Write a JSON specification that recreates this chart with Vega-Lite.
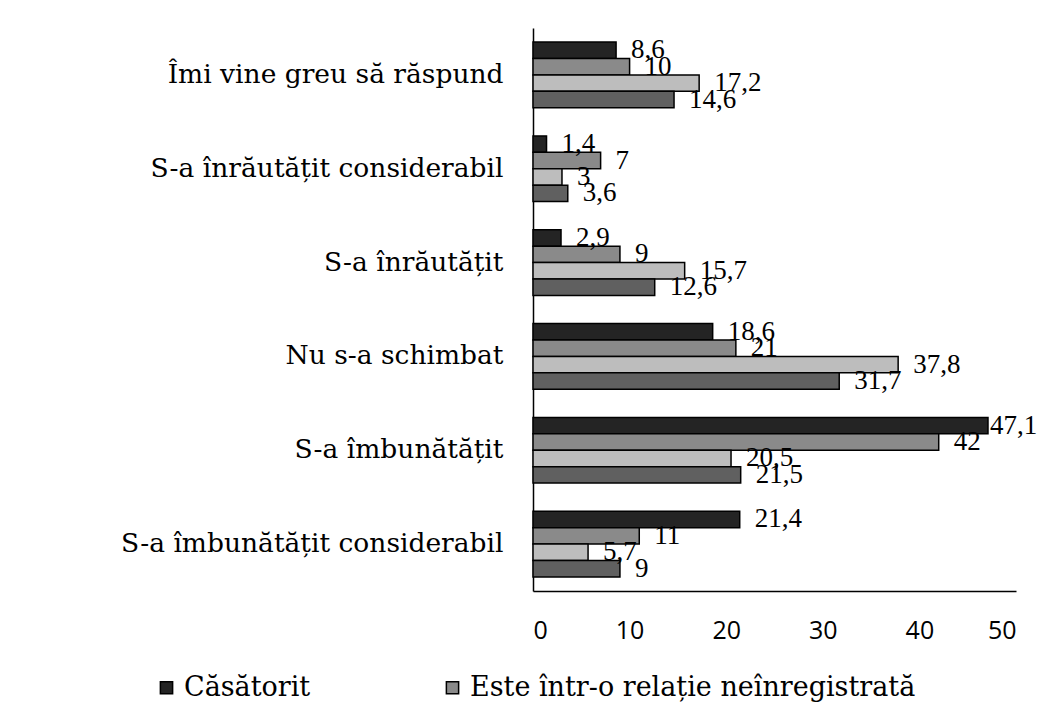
{
  "$schema": "https://vega.github.io/schema/vega-lite/v6.json",
  "width": 483,
  "height": 563,
  "autosize": {"type": "none"},
  "padding": {"left": 533, "top": 28, "right": 28, "bottom": 125},
  "background": "white",
  "config": {"view": {"stroke": null}},
  "data": {
    "values": [
      {"cat": "Îmi vine greu să răspund", "series": "Căsătorit", "value": 8.6, "label": "8,6"},
      {"cat": "Îmi vine greu să răspund", "series": "Este într-o relație neînregistrată", "value": 10, "label": "10"},
      {"cat": "Îmi vine greu să răspund", "series": "Divorțat", "value": 17.2, "label": "17,2"},
      {"cat": "Îmi vine greu să răspund", "series": "Văduv", "value": 14.6, "label": "14,6"},
      {"cat": "S-a înrăutățit considerabil", "series": "Căsătorit", "value": 1.4, "label": "1,4"},
      {"cat": "S-a înrăutățit considerabil", "series": "Este într-o relație neînregistrată", "value": 7, "label": "7"},
      {"cat": "S-a înrăutățit considerabil", "series": "Divorțat", "value": 3, "label": "3"},
      {"cat": "S-a înrăutățit considerabil", "series": "Văduv", "value": 3.6, "label": "3,6"},
      {"cat": "S-a înrăutățit", "series": "Căsătorit", "value": 2.9, "label": "2,9"},
      {"cat": "S-a înrăutățit", "series": "Este într-o relație neînregistrată", "value": 9, "label": "9"},
      {"cat": "S-a înrăutățit", "series": "Divorțat", "value": 15.7, "label": "15,7"},
      {"cat": "S-a înrăutățit", "series": "Văduv", "value": 12.6, "label": "12,6"},
      {"cat": "Nu s-a schimbat", "series": "Căsătorit", "value": 18.6, "label": "18,6"},
      {"cat": "Nu s-a schimbat", "series": "Este într-o relație neînregistrată", "value": 21, "label": "21"},
      {"cat": "Nu s-a schimbat", "series": "Divorțat", "value": 37.8, "label": "37,8"},
      {"cat": "Nu s-a schimbat", "series": "Văduv", "value": 31.7, "label": "31,7"},
      {"cat": "S-a îmbunătățit", "series": "Căsătorit", "value": 47.1, "label": "47,1"},
      {"cat": "S-a îmbunătățit", "series": "Este într-o relație neînregistrată", "value": 42, "label": "42"},
      {"cat": "S-a îmbunătățit", "series": "Divorțat", "value": 20.5, "label": "20,5"},
      {"cat": "S-a îmbunătățit", "series": "Văduv", "value": 21.5, "label": "21,5"},
      {"cat": "S-a îmbunătățit considerabil", "series": "Căsătorit", "value": 21.4, "label": "21,4"},
      {"cat": "S-a îmbunătățit considerabil", "series": "Este într-o relație neînregistrată", "value": 11, "label": "11"},
      {"cat": "S-a îmbunătățit considerabil", "series": "Divorțat", "value": 5.7, "label": "5,7"},
      {"cat": "S-a îmbunătățit considerabil", "series": "Văduv", "value": 9, "label": "9"}
    ]
  },
  "encoding": {
    "y": {
      "field": "cat",
      "type": "nominal",
      "sort": ["Îmi vine greu să răspund", "S-a înrăutățit considerabil", "S-a înrăutățit", "Nu s-a schimbat", "S-a îmbunătățit", "S-a îmbunătățit considerabil"],
      "scale": {"paddingInner": 0.3, "paddingOuter": 0.15},
      "axis": {
        "title": null,
        "ticks": false,
        "grid": false,
        "domainColor": "black",
        "domainWidth": 1.5,
        "labelFont": "DejaVu Serif",
        "labelFontSize": 26.5,
        "labelColor": "black",
        "labelPadding": 30,
        "labelLimit": 600
      }
    },
    "yOffset": {
      "field": "series",
      "type": "nominal",
      "sort": ["Căsătorit", "Este într-o relație neînregistrată", "Divorțat", "Văduv"],
      "scale": {"paddingInner": 0, "paddingOuter": 0}
    },
    "x": {
      "field": "value",
      "type": "quantitative",
      "scale": {"domain": [0, 50]},
      "axis": {
        "title": null,
        "ticks": false,
        "grid": false,
        "values": [0, 10, 20, 30, 40, 50],
        "domainColor": "black",
        "domainWidth": 1.5,
        "labelFont": "Open Sans",
        "labelFontSize": 25,
        "labelColor": "black",
        "labelPadding": 27
      }
    }
  },
  "layer": [
    {
      "mark": {"type": "bar", "stroke": "black", "strokeWidth": 1.5},
      "encoding": {
        "color": {
          "field": "series",
          "type": "nominal",
          "scale": {
            "domain": ["Căsătorit", "Este într-o relație neînregistrată", "Divorțat", "Văduv"],
            "range": ["#242424", "#8a8a8a", "#bdbdbd", "#606060"]
          },
          "legend": {
            "title": null,
            "orient": "none",
            "legendX": -380,
            "legendY": 646,
            "direction": "horizontal",
            "values": ["Căsătorit", "Este într-o relație neînregistrată"],
            "symbolType": "square",
            "symbolSize": 150,
            "symbolStrokeColor": "black",
            "symbolStrokeWidth": 1.5,
            "labelFont": "DejaVu Serif",
            "labelFontSize": 27,
            "labelColor": "black",
            "labelLimit": 700,
            "labelOffset": 4,
            "columnPadding": 128
          }
        }
      }
    },
    {
      "transform": [{"filter": "datum.value < 45"}],
      "mark": {"type": "text", "align": "left", "baseline": "middle", "dx": 15, "font": "Liberation Serif", "fontSize": 27, "color": "black"},
      "encoding": {"text": {"field": "label"}}
    },
    {
      "transform": [{"filter": "datum.value >= 45"}],
      "mark": {"type": "text", "align": "left", "baseline": "middle", "dx": 2, "font": "Liberation Serif", "fontSize": 27, "color": "black"},
      "encoding": {"text": {"field": "label"}}
    }
  ]
}
